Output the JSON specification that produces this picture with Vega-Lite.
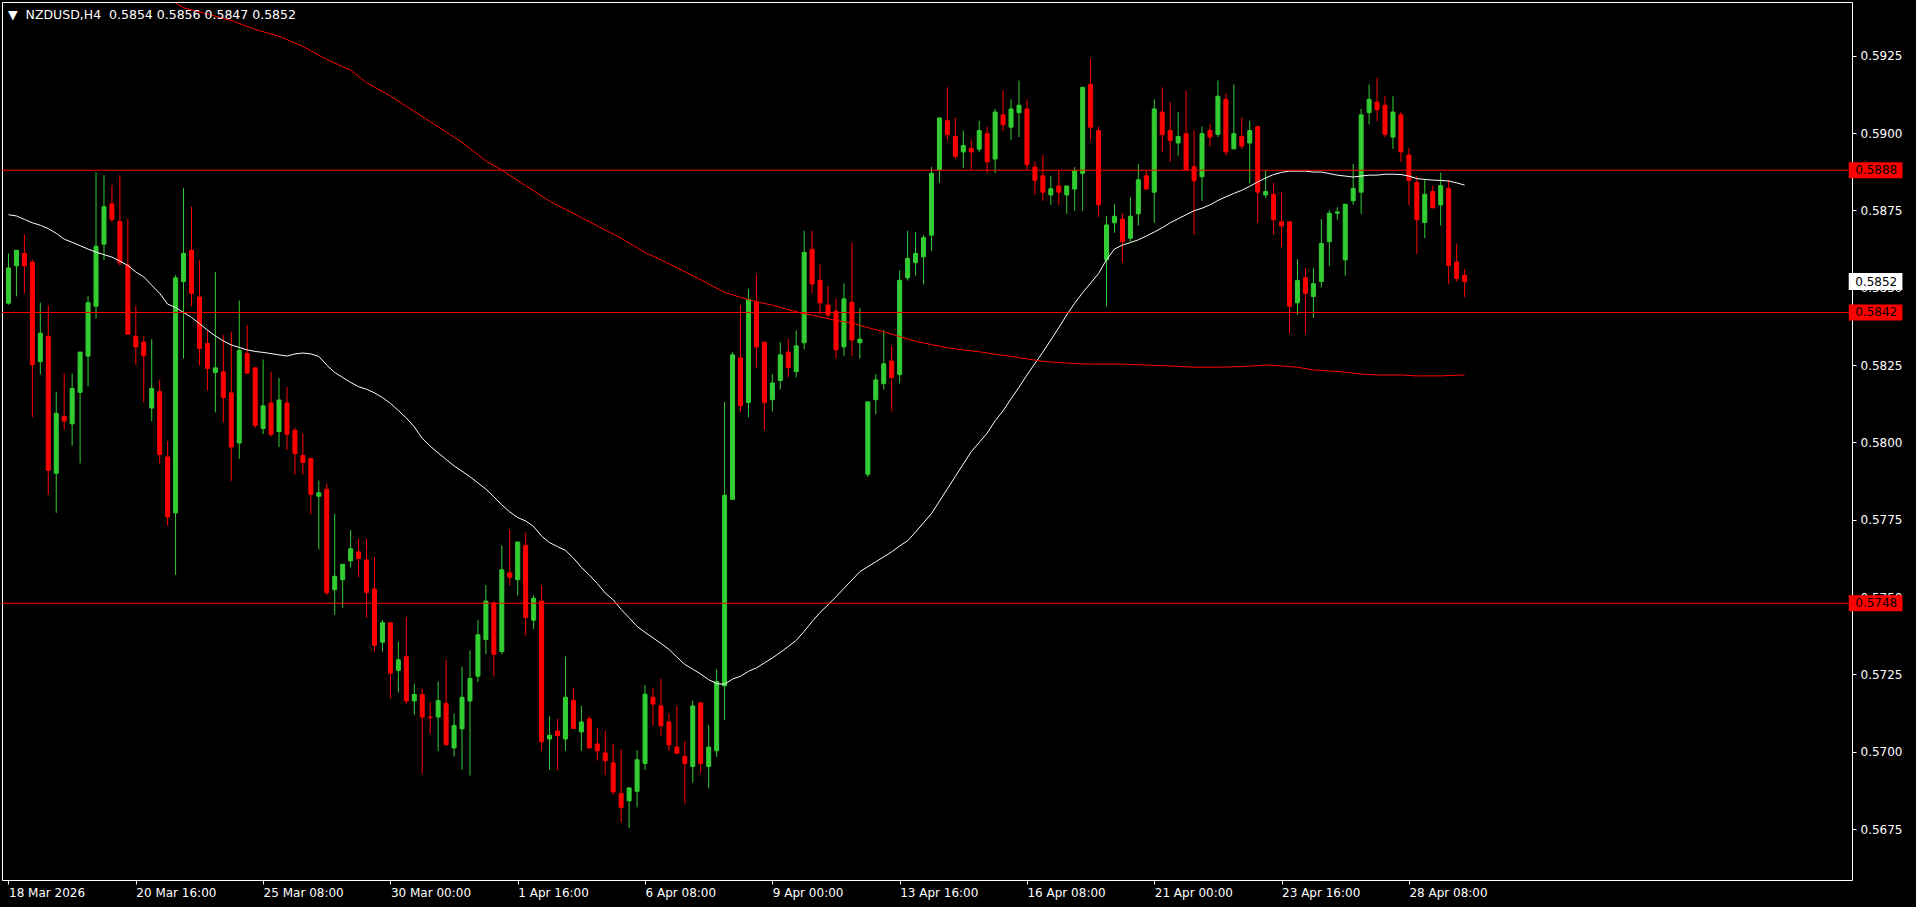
{
"$schema":"https://vega.github.io/schema/vega-lite/v6.json",
"autosize":{"type":"none"},
"width":1850,"height":878,
"padding":{"left":2,"top":2,"right":64,"bottom":27},
"background":"#000000",
"config":{"view":{"stroke":"#ffffff","strokeWidth":1},"axis":{"grid":false,"domain":false,"labelFont":"DejaVu Sans","labelFontSize":12,"labelColor":"#ffffff","tickColor":"#ffffff","tickSize":4,"labelPadding":3,"title":null}},
"title":{"text":"▼\u00a0\u00a0NZDUSD,H4\u00a0\u00a00.5854\u00a00.5856\u00a00.5847\u00a00.5852","anchor":"start","frame":"group","orient":"top","offset":-19,"dx":6,"color":"#ffffff","font":"DejaVu Sans","fontSize":12.5,"fontWeight":"normal"},
"datasets":{
"ohlc":[
{"i":0,"o":0.5845,"h":0.58611,"l":0.58445,"c":0.58564},
{"i":1,"o":0.58571,"h":0.58621,"l":0.58472,"c":0.58621},
{"i":2,"o":0.58611,"h":0.58672,"l":0.58482,"c":0.58571},
{"i":3,"o":0.58583,"h":0.58591,"l":0.58082,"c":0.58251},
{"i":4,"o":0.58261,"h":0.58452,"l":0.5822,"c":0.58353},
{"i":5,"o":0.58343,"h":0.58442,"l":0.5783,"c":0.5791},
{"i":6,"o":0.579,"h":0.58164,"l":0.57772,"c":0.58094},
{"i":7,"o":0.58084,"h":0.58222,"l":0.58041,"c":0.58069},
{"i":8,"o":0.5806,"h":0.58222,"l":0.57989,"c":0.58174},
{"i":9,"o":0.58162,"h":0.58292,"l":0.57932,"c":0.58292},
{"i":10,"o":0.58279,"h":0.58474,"l":0.58181,"c":0.58452},
{"i":11,"o":0.5844,"h":0.58873,"l":0.58401,"c":0.58634},
{"i":12,"o":0.58641,"h":0.58864,"l":0.5859,"c":0.58762},
{"i":13,"o":0.58771,"h":0.58832,"l":0.58712,"c":0.58721},
{"i":14,"o":0.58714,"h":0.58864,"l":0.58571,"c":0.58581},
{"i":15,"o":0.58573,"h":0.58723,"l":0.5835,"c":0.5835},
{"i":16,"o":0.58343,"h":0.58442,"l":0.58251,"c":0.58309},
{"i":17,"o":0.58324,"h":0.58343,"l":0.5813,"c":0.5828},
{"i":18,"o":0.58111,"h":0.58333,"l":0.58069,"c":0.58174},
{"i":19,"o":0.58164,"h":0.58203,"l":0.57932,"c":0.57961},
{"i":20,"o":0.57953,"h":0.58004,"l":0.57731,"c":0.57759},
{"i":21,"o":0.57772,"h":0.58541,"l":0.57571,"c":0.58532},
{"i":22,"o":0.5852,"h":0.58822,"l":0.58271,"c":0.58611},
{"i":23,"o":0.58621,"h":0.58762,"l":0.5844,"c":0.58482},
{"i":24,"o":0.5847,"h":0.58589,"l":0.58249,"c":0.58304},
{"i":25,"o":0.5832,"h":0.58363,"l":0.58168,"c":0.58239},
{"i":26,"o":0.58226,"h":0.58551,"l":0.58097,"c":0.58241},
{"i":27,"o":0.58228,"h":0.58347,"l":0.58065,"c":0.58145},
{"i":28,"o":0.5816,"h":0.58358,"l":0.57876,"c":0.57985},
{"i":29,"o":0.57998,"h":0.58459,"l":0.57947,"c":0.58297},
{"i":30,"o":0.58287,"h":0.58379,"l":0.58224,"c":0.58224},
{"i":31,"o":0.58241,"h":0.58241,"l":0.58047,"c":0.58055},
{"i":32,"o":0.58045,"h":0.58268,"l":0.58027,"c":0.58118},
{"i":33,"o":0.58127,"h":0.58228,"l":0.58019,"c":0.58026},
{"i":34,"o":0.58035,"h":0.58208,"l":0.57985,"c":0.58137},
{"i":35,"o":0.58127,"h":0.58179,"l":0.57976,"c":0.58026},
{"i":36,"o":0.58039,"h":0.58048,"l":0.57895,"c":0.57964},
{"i":37,"o":0.57958,"h":0.58029,"l":0.57895,"c":0.57935},
{"i":38,"o":0.57948,"h":0.57948,"l":0.57767,"c":0.57832},
{"i":39,"o":0.57826,"h":0.57877,"l":0.57654,"c":0.57837},
{"i":40,"o":0.57848,"h":0.57866,"l":0.57506,"c":0.57514},
{"i":41,"o":0.57524,"h":0.57769,"l":0.57443,"c":0.57567},
{"i":42,"o":0.57556,"h":0.57606,"l":0.57465,"c":0.57606},
{"i":43,"o":0.57617,"h":0.57717,"l":0.57595,"c":0.57656},
{"i":44,"o":0.57646,"h":0.57688,"l":0.57564,"c":0.57625},
{"i":45,"o":0.5762,"h":0.57688,"l":0.57433,"c":0.57514},
{"i":46,"o":0.57526,"h":0.57629,"l":0.57324,"c":0.57344},
{"i":47,"o":0.57354,"h":0.57426,"l":0.57324,"c":0.57417},
{"i":48,"o":0.57417,"h":0.57417,"l":0.57172,"c":0.57254},
{"i":49,"o":0.57263,"h":0.57356,"l":0.57192,"c":0.57297},
{"i":50,"o":0.57307,"h":0.57436,"l":0.57153,"c":0.57164},
{"i":51,"o":0.57164,"h":0.5722,"l":0.5712,"c":0.57185},
{"i":52,"o":0.57185,"h":0.57204,"l":0.56932,"c":0.57112},
{"i":53,"o":0.57112,"h":0.5716,"l":0.5706,"c":0.5711},
{"i":54,"o":0.57112,"h":0.57227,"l":0.57002,"c":0.57165},
{"i":55,"o":0.57156,"h":0.57297,"l":0.57022,"c":0.57022},
{"i":56,"o":0.57012,"h":0.57124,"l":0.56984,"c":0.57085},
{"i":57,"o":0.57074,"h":0.57275,"l":0.56942,"c":0.57176},
{"i":58,"o":0.57164,"h":0.57327,"l":0.56923,"c":0.57237},
{"i":59,"o":0.57244,"h":0.57426,"l":0.57225,"c":0.57378},
{"i":60,"o":0.57363,"h":0.57539,"l":0.57315,"c":0.57487},
{"i":61,"o":0.5748,"h":0.57487,"l":0.57244,"c":0.57315},
{"i":62,"o":0.57324,"h":0.57667,"l":0.57315,"c":0.57588},
{"i":63,"o":0.57578,"h":0.57719,"l":0.57537,"c":0.57564},
{"i":64,"o":0.57556,"h":0.57678,"l":0.57505,"c":0.57678},
{"i":65,"o":0.57667,"h":0.57708,"l":0.57376,"c":0.57434},
{"i":66,"o":0.57425,"h":0.57506,"l":0.57396,"c":0.57496},
{"i":67,"o":0.57487,"h":0.57539,"l":0.57002,"c":0.57032},
{"i":68,"o":0.57041,"h":0.57114,"l":0.56941,"c":0.57053},
{"i":69,"o":0.57067,"h":0.57106,"l":0.56941,"c":0.57052},
{"i":70,"o":0.57041,"h":0.57308,"l":0.57003,"c":0.57176},
{"i":71,"o":0.57166,"h":0.57206,"l":0.57075,"c":0.57075},
{"i":72,"o":0.57064,"h":0.57148,"l":0.57003,"c":0.57096},
{"i":73,"o":0.57106,"h":0.57116,"l":0.57012,"c":0.57012},
{"i":74,"o":0.57025,"h":0.57076,"l":0.56971,"c":0.57003},
{"i":75,"o":0.56996,"h":0.57067,"l":0.56924,"c":0.56971},
{"i":76,"o":0.56964,"h":0.57025,"l":0.56862,"c":0.5687},
{"i":77,"o":0.56865,"h":0.57008,"l":0.56771,"c":0.5682},
{"i":78,"o":0.56841,"h":0.56883,"l":0.56753,"c":0.56883},
{"i":79,"o":0.56872,"h":0.57005,"l":0.5682,"c":0.56974},
{"i":80,"o":0.56962,"h":0.57215,"l":0.56941,"c":0.57186},
{"i":81,"o":0.57176,"h":0.57206,"l":0.57084,"c":0.57154},
{"i":82,"o":0.57148,"h":0.57236,"l":0.57052,"c":0.57084},
{"i":83,"o":0.57096,"h":0.57123,"l":0.57003,"c":0.57022},
{"i":84,"o":0.57015,"h":0.57148,"l":0.56995,"c":0.56995},
{"i":85,"o":0.56985,"h":0.57035,"l":0.56833,"c":0.56962},
{"i":86,"o":0.56952,"h":0.57165,"l":0.569,"c":0.57148},
{"i":87,"o":0.57158,"h":0.57158,"l":0.56931,"c":0.56962},
{"i":88,"o":0.56952,"h":0.57086,"l":0.56882,"c":0.57015},
{"i":89,"o":0.57003,"h":0.57266,"l":0.56983,"c":0.57227},
{"i":90,"o":0.57213,"h":0.58131,"l":0.57103,"c":0.57829},
{"i":91,"o":0.57816,"h":0.58292,"l":0.57816,"c":0.58283},
{"i":92,"o":0.58273,"h":0.58444,"l":0.581,"c":0.58118},
{"i":93,"o":0.58129,"h":0.58496,"l":0.58081,"c":0.58462},
{"i":94,"o":0.58454,"h":0.58543,"l":0.58242,"c":0.58309},
{"i":95,"o":0.58324,"h":0.58324,"l":0.58039,"c":0.58129},
{"i":96,"o":0.58138,"h":0.58221,"l":0.581,"c":0.58192},
{"i":97,"o":0.582,"h":0.58324,"l":0.58171,"c":0.58283},
{"i":98,"o":0.58292,"h":0.58334,"l":0.5821,"c":0.58242},
{"i":99,"o":0.58229,"h":0.58362,"l":0.5821,"c":0.58312},
{"i":100,"o":0.58322,"h":0.58684,"l":0.58301,"c":0.58614},
{"i":101,"o":0.58624,"h":0.58684,"l":0.58483,"c":0.58512},
{"i":102,"o":0.58524,"h":0.58575,"l":0.58414,"c":0.58451},
{"i":103,"o":0.58444,"h":0.58505,"l":0.58403,"c":0.58412},
{"i":104,"o":0.58424,"h":0.58464,"l":0.58271,"c":0.58299},
{"i":105,"o":0.58309,"h":0.58514,"l":0.58279,"c":0.58464},
{"i":106,"o":0.58453,"h":0.58646,"l":0.58279,"c":0.58331},
{"i":107,"o":0.58322,"h":0.58434,"l":0.58271,"c":0.58334},
{"i":108,"o":0.57897,"h":0.58131,"l":0.57888,"c":0.58131},
{"i":109,"o":0.58138,"h":0.58221,"l":0.58091,"c":0.58202},
{"i":110,"o":0.5819,"h":0.58363,"l":0.58171,"c":0.58254},
{"i":111,"o":0.58263,"h":0.58312,"l":0.581,"c":0.5821},
{"i":112,"o":0.58219,"h":0.58556,"l":0.5819,"c":0.58524},
{"i":113,"o":0.58532,"h":0.58684,"l":0.58523,"c":0.58595},
{"i":114,"o":0.58581,"h":0.5868,"l":0.58539,"c":0.58611},
{"i":115,"o":0.586,"h":0.58671,"l":0.58511,"c":0.58662},
{"i":116,"o":0.5867,"h":0.5889,"l":0.58619,"c":0.5887},
{"i":117,"o":0.58881,"h":0.59049,"l":0.58839,"c":0.59049},
{"i":118,"o":0.5904,"h":0.59148,"l":0.58976,"c":0.58995},
{"i":119,"o":0.58989,"h":0.59049,"l":0.58917,"c":0.58925},
{"i":120,"o":0.58939,"h":0.59008,"l":0.58888,"c":0.5896},
{"i":121,"o":0.58951,"h":0.58979,"l":0.58881,"c":0.58939},
{"i":122,"o":0.58948,"h":0.5904,"l":0.58939,"c":0.59008},
{"i":123,"o":0.58998,"h":0.59021,"l":0.5887,"c":0.58907},
{"i":124,"o":0.58916,"h":0.59078,"l":0.5887,"c":0.59068},
{"i":125,"o":0.59059,"h":0.59138,"l":0.59006,"c":0.59027},
{"i":126,"o":0.59019,"h":0.59109,"l":0.58977,"c":0.59078},
{"i":127,"o":0.59066,"h":0.5917,"l":0.58987,"c":0.5909},
{"i":128,"o":0.59078,"h":0.59109,"l":0.58881,"c":0.58898},
{"i":129,"o":0.5889,"h":0.58909,"l":0.588,"c":0.58847},
{"i":130,"o":0.58862,"h":0.58929,"l":0.58781,"c":0.58809},
{"i":131,"o":0.588,"h":0.58862,"l":0.58768,"c":0.5882},
{"i":132,"o":0.58829,"h":0.5888,"l":0.58768,"c":0.58809},
{"i":133,"o":0.588,"h":0.58829,"l":0.58739,"c":0.58829},
{"i":134,"o":0.58819,"h":0.5889,"l":0.58749,"c":0.58879},
{"i":135,"o":0.5887,"h":0.59148,"l":0.58749,"c":0.59148},
{"i":136,"o":0.59157,"h":0.5924,"l":0.58976,"c":0.59019},
{"i":137,"o":0.59008,"h":0.59021,"l":0.58729,"c":0.58768},
{"i":138,"o":0.5859,"h":0.58731,"l":0.5844,"c":0.58703},
{"i":139,"o":0.5871,"h":0.5877,"l":0.58678,"c":0.58731},
{"i":140,"o":0.58722,"h":0.58741,"l":0.58581,"c":0.58649},
{"i":141,"o":0.5866,"h":0.58792,"l":0.58649,"c":0.58731},
{"i":142,"o":0.58739,"h":0.589,"l":0.58701,"c":0.58849},
{"i":143,"o":0.58862,"h":0.58879,"l":0.58819,"c":0.58819},
{"i":144,"o":0.58809,"h":0.59109,"l":0.5871,"c":0.59078},
{"i":145,"o":0.59068,"h":0.59148,"l":0.58939,"c":0.58995},
{"i":146,"o":0.59008,"h":0.591,"l":0.58907,"c":0.58976},
{"i":147,"o":0.58968,"h":0.59068,"l":0.58927,"c":0.58989},
{"i":148,"o":0.58998,"h":0.59138,"l":0.58881,"c":0.58881},
{"i":149,"o":0.58891,"h":0.59008,"l":0.5867,"c":0.58846},
{"i":150,"o":0.58859,"h":0.59021,"l":0.58781,"c":0.58998},
{"i":151,"o":0.59008,"h":0.5903,"l":0.58958,"c":0.58987},
{"i":152,"o":0.58996,"h":0.5917,"l":0.58987,"c":0.59119},
{"i":153,"o":0.59109,"h":0.59129,"l":0.58927,"c":0.58939},
{"i":154,"o":0.58949,"h":0.59157,"l":0.58949,"c":0.58998},
{"i":155,"o":0.58989,"h":0.59049,"l":0.58949,"c":0.58958},
{"i":156,"o":0.58968,"h":0.5904,"l":0.58837,"c":0.59008},
{"i":157,"o":0.59021,"h":0.59021,"l":0.5871,"c":0.58809},
{"i":158,"o":0.588,"h":0.58879,"l":0.5879,"c":0.58811},
{"i":159,"o":0.58802,"h":0.5884,"l":0.5867,"c":0.5872},
{"i":160,"o":0.58713,"h":0.58811,"l":0.58631,"c":0.587},
{"i":161,"o":0.58713,"h":0.58713,"l":0.58352,"c":0.5844},
{"i":162,"o":0.58451,"h":0.58592,"l":0.58412,"c":0.58523},
{"i":163,"o":0.58532,"h":0.58564,"l":0.58352,"c":0.58482},
{"i":164,"o":0.58472,"h":0.58564,"l":0.58403,"c":0.58513},
{"i":165,"o":0.5852,"h":0.58722,"l":0.58501,"c":0.58643},
{"i":166,"o":0.58649,"h":0.58751,"l":0.58571,"c":0.58741},
{"i":167,"o":0.58741,"h":0.5876,"l":0.5872,"c":0.58745},
{"i":168,"o":0.5859,"h":0.5877,"l":0.58539,"c":0.5877},
{"i":169,"o":0.58781,"h":0.589,"l":0.58768,"c":0.58821},
{"i":170,"o":0.58809,"h":0.59078,"l":0.58739,"c":0.59059},
{"i":171,"o":0.59066,"h":0.59157,"l":0.59028,"c":0.59109},
{"i":172,"o":0.591,"h":0.59179,"l":0.59038,"c":0.59076},
{"i":173,"o":0.5909,"h":0.59119,"l":0.58987,"c":0.58996},
{"i":174,"o":0.58987,"h":0.59119,"l":0.58949,"c":0.59068},
{"i":175,"o":0.59059,"h":0.59068,"l":0.58907,"c":0.58939},
{"i":176,"o":0.58929,"h":0.58951,"l":0.58768,"c":0.58847},
{"i":177,"o":0.5884,"h":0.58862,"l":0.58609,"c":0.5872},
{"i":178,"o":0.58711,"h":0.58853,"l":0.5866,"c":0.58802},
{"i":179,"o":0.58811,"h":0.5883,"l":0.58758,"c":0.58758},
{"i":180,"o":0.58768,"h":0.58872,"l":0.58701,"c":0.5883},
{"i":181,"o":0.58821,"h":0.58849,"l":0.58511,"c":0.58572},
{"i":182,"o":0.58583,"h":0.58643,"l":0.5852,"c":0.5853},
{"i":183,"o":0.5854,"h":0.5856,"l":0.5847,"c":0.5852}
],
"maw":[
{"i":0,"v":0.58736},{"i":1,"v":0.58732},{"i":2,"v":0.58721},{"i":3,"v":0.5871},{"i":4,"v":0.58702},{"i":5,"v":0.58691},{"i":6,"v":0.58676},{"i":7,"v":0.58657},{"i":8,"v":0.58647},{"i":9,"v":0.58636},{"i":10,"v":0.58625},{"i":11,"v":0.58615},{"i":12,"v":0.58607},{"i":13,"v":0.58599},{"i":14,"v":0.58586},{"i":15,"v":0.58572},{"i":16,"v":0.58551},{"i":17,"v":0.58535},{"i":18,"v":0.58508},{"i":19,"v":0.58482},{"i":20,"v":0.58447},{"i":21,"v":0.58436},{"i":22,"v":0.5842},{"i":23,"v":0.58404},{"i":24,"v":0.58384},{"i":25,"v":0.58363},{"i":26,"v":0.58344},{"i":27,"v":0.58328},{"i":28,"v":0.58315},{"i":29,"v":0.58307},{"i":30,"v":0.58299},{"i":31,"v":0.58294},{"i":32,"v":0.58291},{"i":33,"v":0.58287},{"i":34,"v":0.58283},{"i":35,"v":0.58279},{"i":36,"v":0.58286},{"i":37,"v":0.58289},{"i":38,"v":0.58286},{"i":39,"v":0.58278},{"i":40,"v":0.5825},{"i":41,"v":0.58226},{"i":42,"v":0.5821},{"i":43,"v":0.58194},{"i":44,"v":0.5818},{"i":45,"v":0.58172},{"i":46,"v":0.5816},{"i":47,"v":0.58145},{"i":48,"v":0.58126},{"i":49,"v":0.58103},{"i":50,"v":0.58079},{"i":51,"v":0.5805},{"i":52,"v":0.58013},{"i":53,"v":0.57988},{"i":54,"v":0.57966},{"i":55,"v":0.57945},{"i":56,"v":0.57924},{"i":57,"v":0.57907},{"i":58,"v":0.57889},{"i":59,"v":0.57869},{"i":60,"v":0.57849},{"i":61,"v":0.57824},{"i":62,"v":0.57798},{"i":63,"v":0.57775},{"i":64,"v":0.57757},{"i":65,"v":0.57746},{"i":66,"v":0.57728},{"i":67,"v":0.57697},{"i":68,"v":0.57676},{"i":69,"v":0.57663},{"i":70,"v":0.57651},{"i":71,"v":0.57626},{"i":72,"v":0.57596},{"i":73,"v":0.57571},{"i":74,"v":0.57544},{"i":75,"v":0.57513},{"i":76,"v":0.57491},{"i":77,"v":0.5746},{"i":78,"v":0.57433},{"i":79,"v":0.57405},{"i":80,"v":0.57386},{"i":81,"v":0.57368},{"i":82,"v":0.5735},{"i":83,"v":0.57331},{"i":84,"v":0.57306},{"i":85,"v":0.57282},{"i":86,"v":0.57267},{"i":87,"v":0.57251},{"i":88,"v":0.57233},{"i":89,"v":0.5722},{"i":90,"v":0.57218},{"i":91,"v":0.57235},{"i":92,"v":0.57244},{"i":93,"v":0.5726},{"i":94,"v":0.57271},{"i":95,"v":0.57287},{"i":96,"v":0.57303},{"i":97,"v":0.57321},{"i":98,"v":0.5734},{"i":99,"v":0.5736},{"i":100,"v":0.57389},{"i":101,"v":0.57421},{"i":102,"v":0.5745},{"i":103,"v":0.57475},{"i":104,"v":0.57501},{"i":105,"v":0.57528},{"i":106,"v":0.57555},{"i":107,"v":0.57582},{"i":108,"v":0.57598},{"i":109,"v":0.57614},{"i":110,"v":0.5763},{"i":111,"v":0.57646},{"i":112,"v":0.57665},{"i":113,"v":0.57682},{"i":114,"v":0.5771},{"i":115,"v":0.5774},{"i":116,"v":0.5777},{"i":117,"v":0.5781},{"i":118,"v":0.5785},{"i":119,"v":0.5789},{"i":120,"v":0.5793},{"i":121,"v":0.5797},{"i":122,"v":0.58},{"i":123,"v":0.5803},{"i":124,"v":0.5807},{"i":125,"v":0.58102},{"i":126,"v":0.58141},{"i":127,"v":0.58178},{"i":128,"v":0.58218},{"i":129,"v":0.58255},{"i":130,"v":0.58292},{"i":131,"v":0.58331},{"i":132,"v":0.58371},{"i":133,"v":0.58412},{"i":134,"v":0.5845},{"i":135,"v":0.58484},{"i":136,"v":0.58515},{"i":137,"v":0.58546},{"i":138,"v":0.58591},{"i":139,"v":0.58625},{"i":140,"v":0.58638},{"i":141,"v":0.58646},{"i":142,"v":0.58655},{"i":143,"v":0.58667},{"i":144,"v":0.5868},{"i":145,"v":0.58694},{"i":146,"v":0.5871},{"i":147,"v":0.58723},{"i":148,"v":0.58736},{"i":149,"v":0.58749},{"i":150,"v":0.58757},{"i":151,"v":0.58768},{"i":152,"v":0.58782},{"i":153,"v":0.58794},{"i":154,"v":0.58805},{"i":155,"v":0.58815},{"i":156,"v":0.58828},{"i":157,"v":0.58842},{"i":158,"v":0.58855},{"i":159,"v":0.58866},{"i":160,"v":0.58873},{"i":161,"v":0.58877},{"i":162,"v":0.58877},{"i":163,"v":0.58877},{"i":164,"v":0.58874},{"i":165,"v":0.58874},{"i":166,"v":0.58869},{"i":167,"v":0.58864},{"i":168,"v":0.58861},{"i":169,"v":0.58858},{"i":170,"v":0.58861},{"i":171,"v":0.58864},{"i":172,"v":0.58864},{"i":173,"v":0.58867},{"i":174,"v":0.58867},{"i":175,"v":0.58866},{"i":176,"v":0.58861},{"i":177,"v":0.58853},{"i":178,"v":0.5885},{"i":179,"v":0.58848},{"i":180,"v":0.58847},{"i":181,"v":0.58845},{"i":182,"v":0.58839},{"i":183,"v":0.58832}
],
"mar":[
{"i":21,"v":0.5942},{"i":22,"v":0.59405},{"i":25,"v":0.59385},{"i":28,"v":0.59364},{"i":31,"v":0.59335},{"i":34,"v":0.59313},{"i":37,"v":0.5928},{"i":40,"v":0.59238},{"i":43,"v":0.59203},{"i":45,"v":0.59163},{"i":48,"v":0.5912},{"i":51,"v":0.5907},{"i":54,"v":0.5902},{"i":57,"v":0.5897},{"i":60,"v":0.5891},{"i":62,"v":0.5888},{"i":65,"v":0.5883},{"i":68,"v":0.5878},{"i":71,"v":0.5874},{"i":74,"v":0.587},{"i":77,"v":0.5866},{"i":80,"v":0.58614},{"i":82,"v":0.5859},{"i":84,"v":0.58565},{"i":86,"v":0.58539},{"i":88,"v":0.58512},{"i":90,"v":0.58485},{"i":92,"v":0.58469},{"i":94,"v":0.58454},{"i":96,"v":0.58444},{"i":98,"v":0.58429},{"i":100,"v":0.58416},{"i":102,"v":0.58406},{"i":104,"v":0.58394},{"i":106,"v":0.58386},{"i":108,"v":0.58371},{"i":110,"v":0.58358},{"i":112,"v":0.58342},{"i":114,"v":0.58327},{"i":116,"v":0.58316},{"i":118,"v":0.58306},{"i":120,"v":0.58299},{"i":122,"v":0.58293},{"i":124,"v":0.58285},{"i":126,"v":0.58278},{"i":128,"v":0.5827},{"i":130,"v":0.58262},{"i":132,"v":0.58258},{"i":134,"v":0.58255},{"i":136,"v":0.58253},{"i":140,"v":0.58253},{"i":143,"v":0.5825},{"i":146,"v":0.58247},{"i":149,"v":0.58243},{"i":152,"v":0.58243},{"i":155,"v":0.58245},{"i":158,"v":0.5825},{"i":160,"v":0.58247},{"i":162,"v":0.58243},{"i":164,"v":0.58234},{"i":166,"v":0.58231},{"i":168,"v":0.58227},{"i":170,"v":0.58221},{"i":172,"v":0.58218},{"i":175,"v":0.58218},{"i":177,"v":0.58215},{"i":180,"v":0.58215},{"i":183,"v":0.58218}
],
"levels":[{"p":0.5888,"txt":"0.5888"},{"p":0.5842,"txt":"0.5842"},{"p":0.5748,"txt":"0.5748"}],
"last":[{"p":0.5852,"txt":"0.5852"}]
},
"layer":[
{"data":{"name":"ohlc"},"mark":{"type":"rule","strokeWidth":1},
 "encoding":{
  "x":{"field":"i","type":"quantitative","scale":{"domain":[-0.1875,231.0625],"nice":false,"zero":false},
       "axis":{"orient":"bottom","values":[0,16,32,48,64,80,96,112,128,144,160,176],"labelAlign":"left","labelFlush":false,"labelOverlap":false,"labelBound":false,"tickSize":4,"labelPadding":3,
       "labelExpr":"['18 Mar 2026','20 Mar 16:00','25 Mar 08:00','30 Mar 00:00','1 Apr 16:00','6 Apr 08:00','9 Apr 00:00','13 Apr 16:00','16 Apr 08:00','21 Apr 00:00','23 Apr 16:00','28 Apr 08:00'][round(datum.value/16)]"}},
  "y":{"field":"l","type":"quantitative","scale":{"domain":[0.566014,0.594076],"nice":false,"zero":false},
       "axis":{"orient":"right","values":[0.5675,0.57,0.5725,0.575,0.5775,0.58,0.5825,0.585,0.5875,0.59,0.5925],"format":".4f","labelFlush":false,"labelOverlap":false,"labelBound":false,"labelPadding":4}},
  "y2":{"field":"h"},
  "color":{"condition":{"test":"datum.c >= datum.o","value":"#32cd32"},"value":"#ff0000"}
 }},
{"data":{"name":"ohlc"},"mark":{"type":"bar","width":4,"strokeWidth":1,"orient":"vertical"},
 "encoding":{
  "x":{"field":"i","type":"quantitative"},
  "y":{"field":"o","type":"quantitative"},
  "y2":{"field":"c"},
  "fill":{"condition":{"test":"datum.c >= datum.o","value":"#32cd32"},"value":"#ff0000"},
  "stroke":{"condition":{"test":"datum.c >= datum.o","value":"#32cd32"},"value":"#ff0000"}
 }},
{"data":{"name":"maw"},"mark":{"type":"line","color":"#ffffff","strokeWidth":1,"clip":true},
 "encoding":{"x":{"field":"i","type":"quantitative"},"y":{"field":"v","type":"quantitative"}}},
{"data":{"name":"mar"},"mark":{"type":"line","color":"#ff0000","strokeWidth":1,"clip":true},
 "encoding":{"x":{"field":"i","type":"quantitative"},"y":{"field":"v","type":"quantitative"}}},
{"data":{"name":"levels"},"mark":{"type":"rule","color":"#ff0000","strokeWidth":1},
 "encoding":{"y":{"field":"p","type":"quantitative"}}},
{"data":{"name":"levels"},"mark":{"type":"bar","color":"#ff0000","height":16,"orient":"horizontal"},
 "encoding":{"x":{"datum":231.28},"x2":{"datum":238.03},"y":{"field":"p","type":"quantitative"}}},
{"data":{"name":"levels"},"mark":{"type":"text","color":"#000000","font":"DejaVu Sans","fontSize":12,"align":"left","baseline":"middle"},
 "encoding":{"x":{"datum":232.1},"y":{"field":"p","type":"quantitative"},"text":{"field":"txt"}}},
{"data":{"name":"last"},"mark":{"type":"bar","color":"#ffffff","height":17,"orient":"horizontal"},
 "encoding":{"x":{"datum":231.28},"x2":{"datum":238.03},"y":{"field":"p","type":"quantitative"}}},
{"data":{"name":"last"},"mark":{"type":"text","color":"#000000","font":"DejaVu Sans","fontSize":12,"align":"left","baseline":"middle"},
 "encoding":{"x":{"datum":232.1},"y":{"field":"p","type":"quantitative"},"text":{"field":"txt"}}}
]
}
